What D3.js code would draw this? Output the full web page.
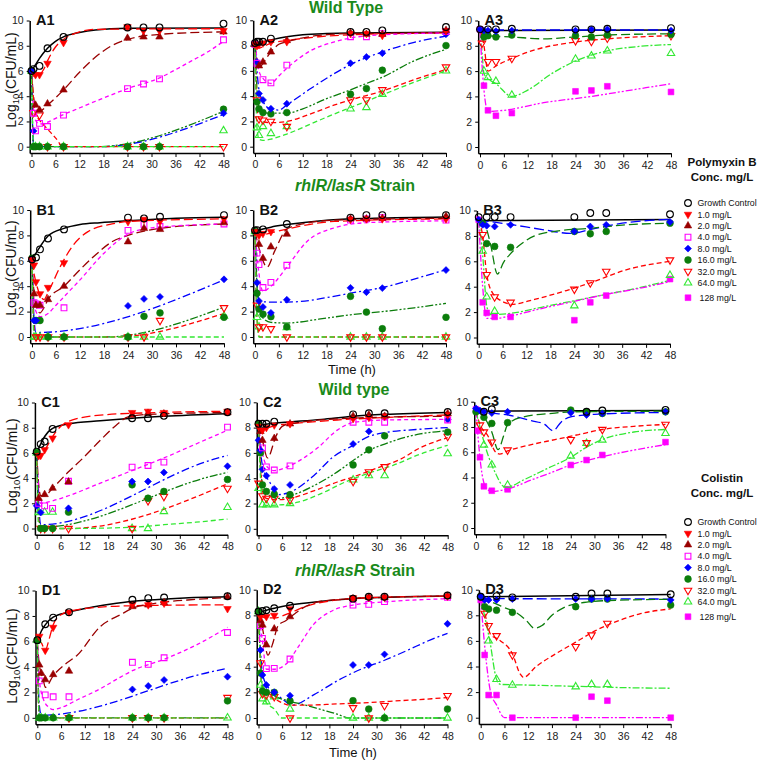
<!DOCTYPE html>
<html><head><meta charset="utf-8">
<script src="https://cdn.jsdelivr.net/npm/d3@7"></script>
<style>
body{margin:0;background:#fff}
svg{display:block}
text{font-family:"Liberation Sans",Arial,sans-serif}
</style>
</head><body>
<svg id="chart" width="760" height="761"></svg>
<script>
// ---------------- DATA ----------------
const times = [0, 0.5, 1, 2, 4, 8, 24, 28, 32, 48];
const seriesNames = ["Growth Control","1.0 mg/L","2.0 mg/L","4.0 mg/L","8.0 mg/L","16.0 mg/L","32.0 mg/L","64.0 mg/L","128 mg/L"];
const xTicks = [0, 6, 12, 18, 24, 30, 36, 42, 48];
const yTicks = [0, 2, 4, 6, 8, 10];
const headings = ["Wild Type", "rhlR/lasR Strain", "Wild type", "rhlR/lasR Strain"];
const legendTitles = [["Polymyxin B", "Conc. mg/L"], ["Colistin", "Conc. mg/L"]];

// observed points: one array per series (values at `times`), null = absent
const ptsA1 = [
 [6.0, 6.15, null, 6.4, 7.8, 8.7, 9.45, 9.45, 9.45, 9.75],
 [null, null, 5.7, 5.7, 6.6, 8.25, 9.5, 9.2, 9.2, 9.2],
 [null, null, 3.3, 2.9, 3.4, 4.5, 8.6, 8.7, 8.7, 9.1],
 [null, 2.65, 1.25, 1.85, 1.6, 2.5, 4.6, 4.97, 5.37, 8.47],
 [6.0, 1.25, null, null, null, null, null, null, null, 2.65],
 [6.0, 0, 0, 0, 0, 0, 0, 0, 0, 2.97],
 [null, 2.7, null, 2.5, 0, 0, 0, 0, 0, 0],
 [6.0, 0, 0, 0, 0, 0, 0, 0, 0, 1.27],
 null
];
const ptsA2 = [
 [8.2, 8.3, 8.3, 8.3, 8.55, null, 9.08, 9.08, 9.2, 9.47],
 [8.1, 8.0, 8.1, 8.2, 8.3, 8.3, 8.95, 8.95, 8.8, 9.16],
 [8.1, null, 6.4, 6.7, 7.5, 8.4, 9.0, 8.9, 8.9, 9.2],
 [8.1, 6.6, null, 5.3, 5.05, 6.45, 8.7, 8.7, 8.95, 9.1],
 [8.1, 6.7, 4.2, 3.7, 3.0, 3.4, 6.6, 7.1, 7.4, 8.9],
 [8.1, 3.55, 3.0, 2.7, 2.6, 2.7, 4.15, 4.6, 6.05, 8.0],
 [null, 3.7, 2.2, 2.1, 2.0, 1.6, 3.7, 3.7, 4.5, 6.3],
 [null, 1.5, 0.9, 1.6, 1.05, 1.6, 3.0, 3.1, 4.15, 6.0],
 null
];
const ptsA3 = [
 [9.3, null, null, 9.3, 9.3, 9.35, 9.3, 9.3, 9.35, 9.4],
 null, null, null,
 [9.3, null, 9.2, 9.2, 9.15, 9.2, 9.2, 9.3, 9.3, 9.2],
 [null, null, 8.7, 8.8, 8.7, 8.85, 8.8, 8.7, 8.85, 8.9],
 [null, 8.2, null, 6.75, 6.75, 7.0, 8.4, 8.35, 8.6, 8.8],
 [null, null, 6.0, 5.5, 5.2, 4.1, 6.95, 7.2, 7.6, 7.4],
 [9.3, null, 4.85, 2.9, 2.47, 2.68, 4.4, 4.47, 4.8, 4.35]
];
const ptsB1 = [
 [6.1, null, 6.26, 6.9, 7.76, 8.47, 9.4, 9.34, 9.47, 9.6],
 [6.1, 5.66, 4.34, 3.4, 3.9, 5.84, 9.08, 9.26, 9.1, 9.3],
 [null, 3.4, 2.5, 2.5, 2.95, 4.0, 7.5, 8.55, 8.47, 9.0],
 [null, 2.7, 2.6, 2.5, null, 2.3, 8.4, 8.87, 8.7, 8.9],
 [6.1, 1.3, 1.3, null, null, null, 2.45, 3.0, 3.16, 4.54],
 [6.2, null, 1.3, 1.3, 0, 0, 0, 1.63, 1.9, 1.55],
 [null, null, 0, 0, 0, 0, 0, 0, 1.3, 2.3],
 [null, 0, 0, 0, 0, 0, 0, 0, 0, 1.65],
 null
];
const ptsB2 = [
 [8.4, 8.42, null, 8.47, null, 8.9, 9.4, 9.6, 9.6, 9.6],
 [8.3, null, 8.0, 8.15, 8.3, null, 9.26, 9.3, 9.3, 9.3],
 [null, null, 7.3, 6.2, 7.1, 8.1, 9.3, 9.3, 9.35, 9.5],
 [null, 6.6, 5.7, 3.9, 4.3, 5.65, 9.2, 9.3, 9.4, 9.2],
 [null, 4.27, 2.83, 2.36, 1.9, 2.93, 3.87, 3.53, 3.85, 5.27],
 [8.3, 3.45, 2.2, 1.8, 1.6, 0.8, 3.2, 1.96, 0.65, 1.55],
 [null, 2.5, 0.8, 0.8, 0.65, 0, 0, 0, 0, 0],
 [8.3, 1.55, 0.8, null, null, 0.75, 0, 0, 0, 0],
 null
];
const ptsB3 = [
 [9.48, null, null, 9.48, 9.48, 9.48, 9.48, 9.8, 9.8, 9.7],
 null, null, null,
 [9.27, null, 8.87, 8.8, 8.74, 8.87, 8.35, 8.74, 8.87, 9.1],
 [null, null, 9.0, 7.4, 7.17, 7.1, 8.35, 8.17, 8.35, 9.0],
 [null, null, 8.1, 4.95, 3.2, 2.77, 3.8, 4.3, 5.2, 6.1],
 [null, null, 6.8, 3.2, 2.07, null, 2.5, null, null, 4.9],
 [9.27, null, 2.77, 1.94, 1.62, 1.62, 1.36, 2.77, 3.3, 4.6]
];
const ptsC1 = [
 [6.1, null, 6.7, 6.9, 7.9, null, 8.75, 8.75, 8.94, 9.23],
 [null, 5.77, 5.8, 6.25, 7.17, 8.23, 9.2, 9.3, 9.2, 9.3],
 [null, 2.4, null, 2.7, 3.2, 3.7, 9.0, 9.15, 9.1, 9.2],
 [null, 2.0, null, 1.8, 1.6, 3.75, 4.87, 5.0, 5.27, 8.05],
 [1.8, null, 1.27, null, null, 1.6, 3.73, 3.73, 4.45, 4.94],
 [6.0, null, 0, 0, 0, 1.3, 3.47, 2.4, 2.94, 3.89],
 [null, null, 0, 0, 0, 0, 0, 2.2, 2.54, 3.18],
 [6.0, 1.27, null, 1.3, 1.3, null, 0, 0, 1.35, 1.68],
 null
];
const ptsC2 = [
 [8.3, null, 8.3, 8.3, 8.47, null, 9.05, 9.13, 9.13, 9.23],
 [8.1, null, 7.8, 8.0, 8.2, 8.3, 8.7, 8.8, 8.9, 9.0],
 [null, 7.7, 7.0, null, 7.15, 8.3, 8.9, 9.0, 8.9, 9.1],
 [null, null, 6.4, 4.9, 4.65, 4.97, 8.42, 8.42, 8.42, 8.6],
 [7.0, 6.2, 4.7, 4.2, 3.15, 3.47, 6.7, 7.7, null, 8.63],
 [8.3, 6.0, 3.47, 2.95, 2.74, 2.7, 5.05, 6.24, 7.35, 7.65],
 [3.6, null, 2.6, 2.4, 2.4, 2.3, 3.74, 4.5, 4.9, 7.3],
 [3.2, null, 1.9, 1.9, 1.9, 2.0, 3.87, 4.2, 4.2, 5.94],
 null
];
const ptsC3 = [
 [null, null, null, 9.2, 9.4, null, null, 9.2, 9.3, 9.35],
 null, null, null,
 [9.47, null, 9.3, 9.2, 9.1, 9.2, 9.13, 8.95, 9.07, 9.2],
 [9.2, null, null, 8.76, 8.28, 8.34, 9.34, 9.2, 9.07, 9.2],
 [null, null, 8.15, 7.6, 6.8, 6.17, 7.0, 6.75, 7.8, 8.2],
 [null, null, null, 6.57, 5.0, 3.4, 5.7, 6.7, 6.97, 7.5],
 [9.4, 7.7, 5.6, 3.3, 2.95, 3.06, 4.99, 5.38, 5.78, 6.8]
];
const ptsD1 = [
 [6.1, null, null, 7.35, 7.87, 8.3, 9.27, 9.4, 9.45, 9.55],
 [null, 6.4, null, 5.3, 7.1, 8.3, 8.9, 8.87, 9.0, 8.57],
 [null, 4.15, 3.5, 3.0, 3.4, 3.67, 8.74, 8.87, 9.05, 9.5],
 [null, 2.9, null, 1.8, 1.65, 1.65, 4.36, 4.2, 4.72, 6.7],
 [null, null, null, null, null, null, 2.23, 2.5, 2.97, 3.23],
 [6.1, 0, 0, 0, 0, 0, 0, 0, 0, 1.33],
 [null, null, null, null, null, 0, 0, 0, 0, 1.59],
 [6.1, 0, 0, 0, 0, 0, 0, 0, 0, 0],
 null
];
const ptsD2 = [
 [8.3, null, 8.34, 8.4, 8.55, 8.75, 9.3, 9.45, 9.45, 9.55],
 [null, 7.9, null, 7.9, 8.0, 8.5, 9.37, 9.4, 9.4, 9.5],
 [null, 7.6, 7.25, 5.7, 6.95, 7.9, 9.3, 9.4, 9.4, 9.5],
 [null, 7.2, 6.2, 3.85, 3.87, 4.6, 8.8, 8.86, 9.07, 9.4],
 [null, 5.3, 3.35, 2.57, 2.0, 1.74, 4.13, 4.13, 4.96, 7.34],
 [8.3, 3.5, 2.1, 2.0, 2.0, 1.33, 1.35, 0.7, 0, 0.7],
 [null, 4.3, 1.9, 1.8, 1.66, 0, 0.8, 0, 0.96, 1.74],
 [8.3, 2.57, 1.5, 1.27, 1.66, 0.7, 0, 0, 0, 0],
 null
];
const ptsD3 = [
 [9.45, null, null, null, 9.5, 9.4, 9.45, 9.7, 9.7, 9.64],
 null, null, null,
 [9.5, null, 9.2, 9.2, 9.2, 9.27, 9.27, 9.27, 9.3, 9.2],
 [9.45, null, 8.67, 8.49, 8.4, 8.23, 8.67, 9.27, 9.27, 8.8],
 [null, null, 8.15, 7.19, 6.4, 4.9, 5.55, 6.46, 7.37, null],
 [null, null, null, 6.0, 3.0, 2.55, 2.42, 2.6, 2.6, null],
 [9.2, null, 4.9, 1.77, 1.77, 0, 0, 1.64, 1.33, 0]
];

// model fit curves: [time, log10 CFU] knots per series
const fitA1 = [
 [[0,6.0],[1,6.5],[2,7.0],[4,7.8],[6,8.35],[8,8.7],[12,9.05],[16,9.25],[24,9.38],[48,9.4]],
 [[0,6.0],[0.5,5.6],[1,5.55],[2,5.7],[3,6.1],[4,6.8],[6,7.9],[8,8.5],[12,9.1],[16,9.3],[48,9.35]],
 [[0,6.0],[0.5,4.0],[1,3.1],[2,2.8],[4,3.3],[8,4.5],[12,5.9],[16,7.1],[20,8.0],[24,8.5],[32,8.9],[48,9.1]],
 [[0,6.0],[0.5,3.0],[1,2.1],[2,1.8],[8,2.55],[16,3.6],[24,4.6],[32,5.45],[36,6.1],[40,6.8],[44,7.5],[48,8.35]],
 [[0,6.0],[0.3,1.3],[0.6,0],[17,0],[48,2.55]],
 [[0,6.0],[0.5,0],[16,0],[48,2.8]],
 [[0,6.0],[0.5,3.8],[1,2.6],[2,2.1],[4,1.4],[6,0.7],[8,0],[48,0]],
 [[0,6.0],[0.5,0],[48,0]],
 null
];
const fitA2 = [
 [[0,8.1],[2,8.3],[4,8.45],[8,8.7],[12,8.85],[18,8.95],[24,9.0],[48,9.05]],
 [[0,8.1],[1,7.8],[2,7.9],[4,8.2],[8,8.4],[16,8.7],[24,8.85],[48,9.0]],
 [[0,8.1],[1,6.2],[2,6.6],[4,7.5],[6,8.1],[8,8.3],[16,8.8],[24,8.95],[48,9.0]],
 [[0,8.1],[0.5,7.0],[1,6.0],[2,5.4],[4,5.0],[6,5.6],[8,6.2],[14,7.6],[20,8.3],[24,8.6],[32,8.85],[48,9.0]],
 [[0,8.1],[0.5,6.0],[1,4.5],[2,3.6],[4,2.95],[6,2.9],[8,3.3],[14,4.6],[20,5.8],[24,6.5],[32,7.5],[40,8.25],[48,8.75]],
 [[0,8.1],[0.5,4.5],[1,3.0],[2,2.7],[4,2.65],[8,2.65],[12,3.0],[18,3.8],[24,4.5],[28,5.0],[32,5.5],[40,6.8],[48,7.7]],
 [[0,8.1],[0.5,3.0],[1,2.2],[2,2.0],[4,1.9],[8,2.0],[14,2.6],[20,3.3],[24,3.7],[32,4.4],[40,5.3],[48,6.1]],
 [[0,8.1],[0.5,1.5],[1,0.6],[2,0.5],[4,0.6],[8,1.0],[14,1.8],[20,2.6],[24,3.1],[32,4.1],[40,5.1],[48,6.0]],
 null
];
const fitA3 = [
 [[0,9.2],[48,9.25]],
 null, null, null,
 [[0,9.25],[48,9.25]],
 [[0,9.2],[1,8.9],[2,8.8],[8,8.7],[16,8.55],[24,8.7],[32,8.85],[48,8.95]],
 [[0,9.2],[0.5,8.8],[1,8.0],[2,6.0],[4,6.4],[8,7.0],[14,7.7],[24,8.3],[32,8.55],[48,8.8]],
 [[0,9.2],[0.5,7.5],[1,5.8],[2,5.4],[4,5.0],[8,4.0],[12,4.5],[18,5.8],[24,6.8],[32,7.6],[40,7.95],[48,8.1]],
 [[0,9.2],[0.5,6.5],[1,4.5],[2,2.8],[6,2.9],[16,3.5],[28,4.0],[38,4.5],[48,5.0]]
];
const fitB1 = [
 [[0,6.05],[1,6.6],[2,7.1],[4,7.95],[8,8.55],[12,8.85],[17,9.0],[24,9.15],[36,9.35],[48,9.43]],
 [[0,6.0],[0.5,5.0],[1,4.3],[2,3.3],[3,2.95],[4,3.5],[7,5.5],[10,7.1],[14,8.3],[20,8.9],[24,9.1],[48,9.3]],
 [[0,6.0],[0.5,3.5],[1,2.5],[2,1.9],[3,2.3],[4,2.95],[8,4.0],[12,5.3],[16,6.5],[20,7.5],[24,8.0],[32,8.55],[48,8.9]],
 [[0,6.0],[0.5,3.0],[1,2.0],[2,1.6],[4,1.85],[6,2.5],[9,3.5],[12,4.5],[18,6.6],[24,8.1],[30,8.6],[48,8.9]],
 [[0,6.0],[0.5,1.5],[1,0.35],[48,4.5]],
 [[0,6.0],[0.7,0],[18,0],[48,2.35]],
 [[0,6.0],[0.7,0],[20,0],[48,1.85]],
 [[0,6.0],[0.5,0],[48,0]],
 null
];
const fitB2 = [
 [[0,8.3],[2,8.5],[4,8.65],[8,8.85],[18,9.2],[30,9.35],[48,9.45]],
 [[0,8.3],[1,8.0],[4,8.2],[8,8.5],[20,9.1],[48,9.3]],
 [[0,8.3],[1,7.0],[2,6.0],[3,5.5],[5,6.8],[8,8.5],[12,8.9],[20,9.2],[48,9.35]],
 [[0,8.3],[0.5,6.5],[1,5.0],[2,3.6],[4,4.0],[8,5.5],[13,7.5],[20,8.6],[28,9.0],[48,9.15]],
 [[0,8.3],[0.5,4.5],[1,2.8],[4,2.75],[8,2.75],[12.5,2.83],[18,3.1],[24,3.45],[32,3.9],[41.5,4.7],[48,5.3]],
 [[0,8.3],[0.5,4.0],[1,2.5],[2,1.5],[4,1.15],[8,1.1],[16,1.4],[24,1.75],[32,2.0],[40,2.3],[48,2.65]],
 [[0,8.3],[0.5,1.5],[1.2,0],[48,0]],
 [[0,8.3],[0.5,1.3],[1,0],[48,0]],
 null
];
const fitB3 = [
 [[0,9.2],[48,9.3]],
 null, null, null,
 [[0,9.25],[8,8.9],[16,8.5],[23,8.2],[28,8.5],[36,9.0],[48,9.3]],
 [[0,9.2],[1,9.0],[2,8.5],[3,7.3],[4.7,5.0],[6.2,5.9],[8,6.6],[10.4,7.3],[14,8.0],[20,8.4],[28,8.6],[36,8.85],[48,9.0]],
 [[0,9.2],[1,8.0],[2,5.0],[3.5,3.5],[7,2.7],[8,2.6],[14,3.0],[22,3.7],[28,4.3],[36.7,5.3],[48,6.0]],
 [[0,9.2],[1,6.5],[2,2.5],[3,1.8],[8,1.9],[16,2.4],[24,2.9],[32,3.4],[40,3.9],[48,4.5]],
 [[0,9.2],[1,4.0],[2,1.5],[4,1.5],[8,1.7],[16,2.3],[24,2.85],[32,3.4],[40,3.85],[48,4.4]]
];
const fitC1 = [
 [[0,6.0],[1,6.7],[2,7.3],[4,7.95],[8,8.3],[16,8.55],[24,8.75],[32,8.9],[48,9.1]],
 [[0,6.0],[0.7,5.7],[2,6.2],[4,7.3],[6,8.1],[8,8.5],[16,9.0],[30,9.2],[48,9.3]],
 [[0,6.0],[0.5,3.5],[1,2.6],[2,2.6],[4,3.2],[8,4.5],[12,5.7],[16,7.0],[20,8.2],[23,8.85],[28,9.05],[48,9.2]],
 [[0,6.0],[0.5,3.0],[1,2.0],[4,2.2],[8,2.6],[16,3.6],[24,4.6],[32,5.6],[40,6.7],[48,7.8]],
 [[0,6.0],[0.5,2.0],[1,0.3],[44.6,5.5],[48,5.8]],
 [[0,6.0],[0.5,1.0],[1,0.1],[44.6,4.2],[48,4.45]],
 [[0,6.0],[0.7,0],[8,0],[48,3.55]],
 [[0,6.0],[0.5,0],[8,0],[24,0.1],[32,0.3],[40,0.5],[48,0.75]],
 null
];
const fitC2 = [
 [[0,8.2],[4,8.35],[8,8.45],[16,8.65],[24,8.9],[32,9.05],[48,9.2]],
 [[0,8.2],[1,7.8],[2.5,8.0],[5,8.2],[8,8.3],[20,8.6],[32,8.8],[48,9.0]],
 [[0,8.2],[1,7.0],[2.3,5.6],[4.4,7.3],[6,8.1],[8,8.3],[24,8.75],[48,8.9]],
 [[0,8.2],[1,6.0],[2.5,4.8],[4,4.6],[8,5.0],[15,6.4],[20,7.8],[24,8.4],[32,8.6],[48,8.65]],
 [[0,8.2],[1,5.0],[3,3.6],[5,2.7],[8,2.9],[14,4.2],[19,5.7],[24,6.6],[28,7.3],[32,7.6],[40,7.85],[48,8.0]],
 [[0,8.2],[1,3.5],[3,2.6],[5,2.4],[8,2.6],[14,3.4],[20,4.5],[24,5.4],[28,6.2],[32,6.7],[41,7.5],[48,7.75]],
 [[0,8.2],[1,3.0],[2,2.4],[5,2.3],[8,2.4],[14,3.0],[20,3.7],[24,4.1],[30,4.8],[36,5.5],[41,6.4],[48,7.2]],
 [[0,8.2],[1,2.0],[2,1.85],[6,1.9],[10,2.1],[16,2.8],[22,3.7],[28,4.4],[34,5.0],[41,5.9],[48,6.6]],
 null
];
const fitC3 = [
 [[0,9.25],[48,9.3]],
 null, null, null,
 [[0,9.3],[4,9.1],[8,8.95],[14,8.5],[17.4,8.2],[19.5,7.7],[21.6,8.4],[24,8.8],[30,9.0],[48,9.15]],
 [[0,9.2],[2,8.8],[4,7.6],[5.6,6.2],[7,7.3],[8,8.2],[12,8.8],[20,9.1],[24,9.2],[48,9.25]],
 [[0,9.2],[1,8.2],[3,7.3],[5,6.0],[6,5.85],[8,6.1],[14,6.6],[20,7.0],[26,7.4],[32,7.8],[40,8.05],[48,8.2]],
 [[0,9.2],[1,8.0],[2.5,6.3],[5,4.3],[7,3.3],[8,3.25],[12,3.8],[18,4.7],[24,5.6],[28,6.4],[32,7.0],[40,7.6],[48,7.8]],
 [[0,9.3],[1.2,5.0],[2.5,3.2],[4,2.9],[8,3.1],[14,3.8],[20,4.5],[24,5.0],[30,5.5],[38,6.05],[48,6.6]]
];
const fitD1 = [
 [[0,6.0],[1,6.8],[2,7.3],[4,7.9],[8,8.3],[14,8.7],[20,9.0],[28,9.25],[36,9.4],[48,9.5]],
 [[0,6.1],[1,5.9],[2,5.3],[3,6.2],[4,7.3],[6,8.1],[8,8.35],[16,8.7],[24,8.8],[48,8.88]],
 [[0,6.0],[0.5,4.2],[1.5,3.0],[2,2.4],[4,3.3],[7,4.2],[10,4.9],[16,7.2],[21,8.1],[24,8.6],[30,9.0],[40,9.3],[48,9.45]],
 [[0,6.0],[0.5,3.0],[1.5,1.5],[3,0.8],[4,0.65],[6,0.8],[10,1.4],[16,2.3],[21,3.2],[24,3.7],[32,4.6],[40,5.7],[48,7.1]],
 [[0,6.0],[0.5,1.0],[1,0.2],[44.7,3.67],[48,3.88]],
 [[0,6.0],[0.5,0],[48,0]],
 [[0,6.0],[0.5,0],[48,0]],
 [[0,6.0],[0.5,0],[48,0]],
 null
];
const fitD2 = [
 [[0,8.2],[2,8.4],[4,8.55],[8,8.8],[16,9.1],[24,9.3],[32,9.4],[48,9.5]],
 [[0,8.2],[1,7.9],[2,7.8],[4,7.8],[8,8.2],[12,8.7],[20,9.2],[30,9.4],[48,9.5]],
 [[0,8.2],[1,7.0],[2.4,4.9],[3.5,5.7],[5,7.2],[7,7.6],[9.3,8.15],[12,8.7],[16,9.1],[24,9.3],[48,9.5]],
 [[0,8.2],[1,6.0],[2,3.8],[4,3.8],[7,4.2],[10,5.5],[14,7.3],[19,8.4],[24,8.8],[32,9.05],[48,9.3]],
 [[0,8.2],[1,3.5],[2,2.6],[4,2.0],[6,1.5],[8.5,1.0],[14,1.8],[20,2.9],[26,3.8],[32,4.5],[38,5.3],[43,6.0],[48,6.6]],
 [[0,8.2],[1,2.5],[2,2.0],[4,1.7],[8,1.3],[12,1.0],[16,0.65],[20,0.3],[23,0],[48,0]],
 [[0,8.2],[1,2.0],[2,1.8],[4,1.5],[8,1.0],[12,1.0],[20,1.1],[28,1.2],[36,1.35],[44,1.5],[48,1.6]],
 [[0,8.2],[1,1.8],[2,1.2],[4,0.7],[6,0],[48,0]],
 null
];
const fitD3 = [
 [[0,9.45],[48,9.63]],
 null, null, null,
 [[0,9.3],[48,9.27]],
 [[0,9.3],[3,9.0],[6,8.6],[9,8.2],[11.5,7.6],[13.5,7.0],[15.5,7.2],[18,8.0],[21,8.6],[26,9.0],[32,9.15],[48,9.25]],
 [[0,9.3],[1,8.2],[2.5,6.5],[4,6.2],[5,6.0],[8,5.0],[10,3.4],[10.8,3.15],[14,4.0],[19,5.0],[24,5.9],[29,6.8],[35,7.6],[40,8.1],[48,8.5]],
 [[0,9.3],[1.3,7.5],[2.3,6.0],[4,3.0],[5,2.6],[12,2.55],[24,2.45],[36,2.35],[48,2.3]],
 [[0,9.3],[1.2,5.0],[2.5,2.0],[4,1.0],[6,0],[48,0]]
];

// ---------------- STYLE / LAYOUT ----------------
const seriesColor = ["#000000","#ff0000","#990000","#ff00ff","#0000ff","#0b7d0b","#ff0000","#33e833","#ff00ff"];
const seriesShape = ["circle","down","up","square","diamond","circle","down","up","square"];
const seriesFilled = [false,true,true,false,true,true,false,false,true];
const dashMain = ["", "9,4", "9,4", "4,3", "8,3,2,3", "8,2,2,2,2,2", "5,3", "5,3", "7,2,2,2,2,2"];
const dashHigh = ["", "9,4", "9,4", "4,3", "10,4", "9,4", "5,3", "7,2,2,2", "7,2,2,2,2,2"];
const green = "#1a8a1a";

const panels = [
 {name:"A1", x0:31.5, x1:223.5, y10:20.5, y0:146.7, pts:ptsA1, fit:fitA1, high:false},
 {name:"A2", x0:255,  x1:446,   y10:20.3, y0:146.7, pts:ptsA2, fit:fitA2, high:false},
 {name:"A3", x0:480,  x1:671,   y10:20.5, y0:147,   pts:ptsA3, fit:fitA3, high:true},
 {name:"B1", x0:32,   x1:224,   y10:210,  y0:337,   pts:ptsB1, fit:fitB1, high:false},
 {name:"B2", x0:255,  x1:446,   y10:210,  y0:337,   pts:ptsB2, fit:fitB2, high:false},
 {name:"B3", x0:478.7,x1:670,   y10:210.5,y0:337.5, pts:ptsB3, fit:fitB3, high:true},
 {name:"C1", x0:36.7, x1:227.5, y10:402.5,y0:528.5, pts:ptsC1, fit:fitC1, high:false},
 {name:"C2", x0:258.5,x1:447.7, y10:402.3,y0:528.8, pts:ptsC2, fit:fitC2, high:false},
 {name:"C3", x0:476,  x1:665.5, y10:401.7,y0:528,   pts:ptsC3, fit:fitC3, high:true},
 {name:"D1", x0:37.3, x1:227.5, y10:590.5,y0:717.8, pts:ptsD1, fit:fitD1, high:false},
 {name:"D2", x0:258.5,x1:447.5, y10:589.7,y0:718,   pts:ptsD2, fit:fitD2, high:false},
 {name:"D3", x0:480.7,x1:670.7, y10:589.7,y0:717.7, pts:ptsD3, fit:fitD3, high:true}
];

const svg = d3.select("#chart");

function symbolPath(shape, size) {
  if (shape === "circle") return d3.symbol(d3.symbolCircle, size*size*0.78)();
  if (shape === "square") return d3.symbol(d3.symbolSquare, size*size*0.72)();
  if (shape === "diamond") return d3.symbol(d3.symbolSquare, size*size*0.52)();
  return d3.symbol(d3.symbolTriangle, size*size*0.52)();
}
function drawMarker(g, shape, filled, color, cx, cy) {
  let rot = 0;
  if (shape === "down") rot = 180;
  if (shape === "diamond") rot = 45;
  g.append("path")
    .attr("d", symbolPath(shape, 6.8))
    .attr("transform", `translate(${cx},${cy}) rotate(${rot})`)
    .attr("fill", filled ? color : "#fff")
    .attr("fill-opacity", filled ? 1 : 0)
    .attr("stroke", color)
    .attr("stroke-width", filled ? 0.6 : 1.1);
}

panels.forEach(p => {
  const pxPerH = (p.x1 - p.x0) / 48;
  const pxPerU = (p.y0 - p.y10) / 10;
  const x = d3.scaleLinear().domain([-0.45, 48]).range([p.x0 - 0.45 * pxPerH, p.x1]);
  const y = d3.scaleLinear().domain([-0.5, 10]).range([p.y0 + 0.5 * pxPerU, p.y10]);
  const g = svg.append("g");

  // axes
  const ax = g.append("g").attr("transform", `translate(0,${y(-0.5)})`)
    .call(d3.axisBottom(x).tickValues(xTicks).tickSize(4).tickSizeOuter(0).tickPadding(4));
  const ay = g.append("g").attr("transform", `translate(${x(-0.45)},0)`)
    .call(d3.axisLeft(y).tickValues(yTicks).tickSize(3).tickSizeOuter(0).tickPadding(3));
  [ax, ay].forEach(a => {
    a.select(".domain").attr("stroke", "#000").attr("stroke-width", 1.5);
    a.selectAll(".tick line").attr("stroke", "#000").attr("stroke-width", 1);
    a.selectAll(".tick text").attr("fill", "#222").style("font-size", "10.5px")
      .style("font-family", '"Liberation Sans", Arial, sans-serif');
  });

  // fit lines
  const line = d3.line().x(d => x(d[0])).y(d => y(d[1])).curve(d3.curveMonotoneX);
  p.fit.forEach((f, i) => {
    if (!f) return;
    g.append("path").attr("d", line(f))
      .attr("fill", "none")
      .attr("stroke", seriesColor[i])
      .attr("stroke-width", i === 0 ? 1.5 : 1.3)
      .attr("stroke-dasharray", (p.high ? dashHigh : dashMain)[i] || null);
  });
  // observed points
  for (let i = p.pts.length - 1; i >= 0; i--) {
    const s = p.pts[i];
    if (!s) continue;
    s.forEach((v, k) => {
      if (v === null) return;
      drawMarker(g, seriesShape[i], seriesFilled[i], seriesColor[i], x(times[k]), y(v));
    });
  }
  // panel label
  g.append("text").attr("x", x(0) + 4.5).attr("y", y(10) + 4.5)
    .attr("font-weight", "bold").attr("font-size", 14.5).attr("fill", "#111").text(p.name);
});

// y axis titles
[[80, 16], [268, 16], [466, 17], [656, 17]].forEach(([cy, bx]) => {
  const t = svg.append("text").attr("transform", `translate(${bx},${cy}) rotate(-90)`)
    .attr("text-anchor", "middle").attr("font-size", 14).attr("fill", "#111");
  t.append("tspan").text("Log");
  t.append("tspan").attr("font-size", 9.5).attr("dy", 3).text("10");
  t.append("tspan").attr("dy", -3).text("(CFU/mL)");
});
// x axis titles
[[352, 374], [353, 757]].forEach(([cx, by]) => {
  svg.append("text").attr("x", cx).attr("y", by).attr("text-anchor", "middle")
    .attr("font-size", 13).attr("fill", "#111").text("Time (h)");
});

// headings
[[346, 12.5], [355, 190.5], [354, 395], [355, 576]].forEach(([cx, by], i) => {
  const t = svg.append("text").attr("x", cx).attr("y", by).attr("text-anchor", "middle")
    .attr("font-size", 16).attr("font-weight", "bold").attr("fill", green);
  const h = headings[i];
  if (h.indexOf("/") > 0) {
    const parts = h.split(" ");
    t.append("tspan").attr("font-style", "italic").text(parts[0]);
    t.append("tspan").text(" " + parts.slice(1).join(" "));
  } else t.text(h);
});

// legends
[[166, 203], [482, 522]].forEach(([titleY, firstY], li) => {
  svg.append("text").attr("x", 722).attr("y", titleY).attr("text-anchor", "middle")
    .attr("font-weight", "bold").attr("font-size", 11.5).attr("fill", "#111").text(legendTitles[li][0]);
  svg.append("text").attr("x", 722).attr("y", titleY + 15).attr("text-anchor", "middle")
    .attr("font-weight", "bold").attr("font-size", 11.5).attr("fill", "#111").text(legendTitles[li][1]);
  const lg = svg.append("g");
  seriesNames.forEach((nm, i) => {
    const yy = firstY + i * 11.4 + (i === 8 ? 3.5 : 0);
    drawMarker(lg, seriesShape[i], seriesFilled[i], seriesColor[i], 688, yy);
    lg.append("text").attr("x", i === 8 ? 699.5 : 697.5).attr("y", yy + 3.2)
      .attr("font-size", 8.8).attr("fill", "#111").text(nm);
  });
});
</script>
</body></html>
